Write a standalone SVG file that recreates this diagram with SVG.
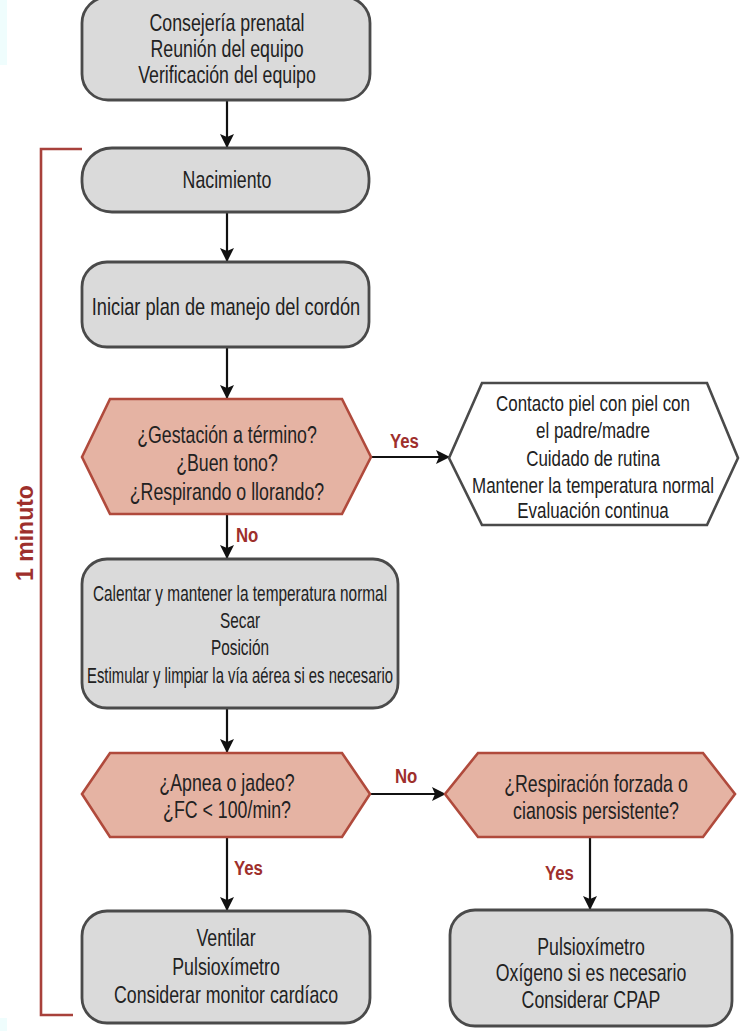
<svg xmlns="http://www.w3.org/2000/svg" width="747" height="1031" viewBox="0 0 747 1031">
  <defs>
    <style>
      .box { fill: #dadada; stroke: #4a4a4a; stroke-width: 2.8; }
      .dec { fill: #e5b3a3; stroke: #b04a3c; stroke-width: 2.6; stroke-linejoin: miter; }
      .out { fill: #ffffff; stroke: #4a4a4a; stroke-width: 2.6; }
      .t { font-family: "Liberation Sans", Arial, sans-serif; font-size: 24px; fill: #222222; text-anchor: middle; }
      .s { font-size: 22px; }
      .lbl { font-family: "Liberation Sans", Arial, sans-serif; font-size: 21px; font-weight: bold; fill: #9e2f2c; }
      .edge { stroke: #111111; stroke-width: 2.2; fill: none; marker-end: url(#arrow); }
      .bracket { stroke: #a8413b; stroke-width: 2.6; fill: none; }
    </style>
    <marker id="arrow" markerUnits="userSpaceOnUse" markerWidth="14" markerHeight="20" viewBox="0 0 14 20" refX="13" refY="7" orient="auto">
      <path d="M0,0 L14,7 L0,14 L3,7 Z" fill="#111111"/>
    </marker>
  </defs>

  <!-- edge strips -->
  <rect x="0" y="0" width="7" height="65" fill="#effdfd"/>
  <rect x="0" y="1018" width="7" height="13" fill="#effdfd"/>

  <!-- one-minute bracket -->
  <g id="bracket">
    <path class="bracket" d="M82,149 H41 V1015 H73"/>
    <text x="33" y="533" transform="rotate(-90 33 533)" text-anchor="middle" font-family="Liberation Sans, Arial, sans-serif" font-size="23" font-weight="bold" fill="#9e2f2c">1 minuto</text>
  </g>

  <!-- connectors -->
  <g id="connectors">
    <line class="edge" x1="227" y1="100" x2="227" y2="147"/>
    <line class="edge" x1="227" y1="212" x2="227" y2="261"/>
    <line class="edge" x1="227" y1="347" x2="227" y2="398"/>
    <line class="edge" x1="371" y1="457" x2="449" y2="457"/>
    <line class="edge" x1="227" y1="514" x2="227" y2="558"/>
    <line class="edge" x1="227" y1="708" x2="227" y2="752"/>
    <line class="edge" x1="370" y1="794" x2="445" y2="794"/>
    <line class="edge" x1="227" y1="837" x2="227" y2="910"/>
    <line class="edge" x1="590" y1="837" x2="590" y2="909"/>
    <text class="lbl" transform="translate(390 448) scale(0.8 1)">Yes</text>
    <text class="lbl" transform="translate(236 542) scale(0.8 1)">No</text>
    <text class="lbl" transform="translate(395 783) scale(0.8 1)">No</text>
    <text class="lbl" transform="translate(234 875) scale(0.8 1)">Yes</text>
    <text class="lbl" transform="translate(545 880) scale(0.8 1)">Yes</text>
  </g>

  <g id="prenatal">
    <rect class="box" x="82" y="-3" width="288" height="103" rx="26"/>
    <text class="t" transform="translate(227 31) scale(0.74 1)">Consejería prenatal</text>
    <text class="t" transform="translate(227 57) scale(0.74 1)">Reunión del equipo</text>
    <text class="t" transform="translate(227 83) scale(0.74 1)">Verificación del equipo</text>
  </g>

  <g id="nacimiento">
    <rect class="box" x="82" y="148" width="287" height="64" rx="30"/>
    <text class="t" transform="translate(227 188) scale(0.74 1)">Nacimiento</text>
  </g>

  <g id="cordon">
    <rect class="box" x="82" y="262" width="287" height="85" rx="25"/>
    <text class="t" transform="translate(226 315) scale(0.76 1)">Iniciar plan de manejo del cordón</text>
  </g>

  <g id="decision-termino">
    <polygon class="dec" points="82,457 110,399 342,399 371,457 342,514 110,514"/>
    <text class="t" transform="translate(227 443) scale(0.74 1)">¿Gestación a término?</text>
    <text class="t" transform="translate(227 471) scale(0.74 1)">¿Buen tono?</text>
    <text class="t" transform="translate(227 500) scale(0.74 1)">¿Respirando o llorando?</text>
  </g>

  <g id="rutina">
    <polygon class="out" points="449,458 482,383 707,383 738,458 707,525 482,525"/>
    <text class="t s" transform="translate(593 411) scale(0.77 1)">Contacto piel con piel con</text>
    <text class="t s" transform="translate(593 438) scale(0.77 1)">el padre/madre</text>
    <text class="t s" transform="translate(593 466) scale(0.77 1)">Cuidado de rutina</text>
    <text class="t s" transform="translate(593 493) scale(0.77 1)">Mantener la temperatura normal</text>
    <text class="t s" transform="translate(593 518) scale(0.77 1)">Evaluación continua</text>
  </g>

  <g id="calentar">
    <rect class="box" x="82" y="559" width="316" height="149" rx="25"/>
    <text class="t s" transform="translate(240 601) scale(0.7 1)">Calentar y mantener la temperatura normal</text>
    <text class="t s" transform="translate(240 628) scale(0.7 1)">Secar</text>
    <text class="t s" transform="translate(240 655) scale(0.7 1)">Posición</text>
    <text class="t s" transform="translate(240 683) scale(0.675 1)">Estimular y limpiar la vía aérea si es necesario</text>
  </g>

  <g id="decision-apnea">
    <polygon class="dec" points="82,794 110,753 342,753 370,794 342,837 110,837"/>
    <text class="t" transform="translate(227 791) scale(0.74 1)">¿Apnea o jadeo?</text>
    <text class="t" transform="translate(227 818) scale(0.74 1)">¿FC &lt; 100/min?</text>
  </g>

  <g id="decision-respiracion">
    <polygon class="dec" points="445,794 478,753 703,753 735,794 703,837 478,837"/>
    <text class="t" transform="translate(596 792) scale(0.74 1)">¿Respiración forzada o</text>
    <text class="t" transform="translate(596 819) scale(0.74 1)">cianosis persistente?</text>
  </g>

  <g id="ventilar">
    <rect class="box" x="82" y="911" width="288" height="112" rx="25"/>
    <text class="t" transform="translate(226 946) scale(0.74 1)">Ventilar</text>
    <text class="t" transform="translate(226 975) scale(0.74 1)">Pulsioxímetro</text>
    <text class="t" transform="translate(226 1003) scale(0.74 1)">Considerar monitor cardíaco</text>
  </g>

  <g id="oxigeno">
    <rect class="box" x="450" y="910" width="282" height="116" rx="25"/>
    <text class="t" transform="translate(591 955) scale(0.74 1)">Pulsioxímetro</text>
    <text class="t" transform="translate(591 981) scale(0.74 1)">Oxígeno si es necesario</text>
    <text class="t" transform="translate(591 1008) scale(0.74 1)">Considerar CPAP</text>
  </g>
</svg>
